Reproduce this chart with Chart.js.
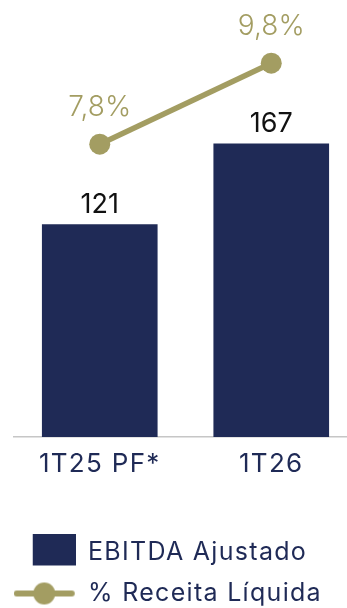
<!DOCTYPE html>
<html lang="pt-BR">
<head>
<meta charset="utf-8">
<title>EBITDA Ajustado</title>
<script src="https://cdn.jsdelivr.net/npm/chart.js@4.4.1/dist/chart.umd.min.js"></script>
<style>
  html, body { margin: 0; padding: 0; background: #fff; overflow: hidden; }
  #moldura { width: 347px; height: 608px; overflow: hidden; }
  #wrap { width: 357px; height: 616px; }
  canvas { display: block; }
</style>
</head>
<body>
<div id="moldura"><div id="wrap"><canvas id="ebitdaGrafico" width="357" height="616"></canvas></div></div>
<script>
// EBITDA ajustado (R$ mi) e margem sobre a receita líquida
const periodos = ['1T25 PF*', '1T26'];
const ebitdaAjustado = [121, 167];
const margemLiquida = [7.8, 9.8];
const legendas = ['EBITDA Ajustado', '% Receita Líquida'];

const AZUL = '#1f2a56';
const OLIVA = '#a39d62';

const fmtPct = v => v.toFixed(1).replace('.', ',') + '%';

// marcadores da legenda desenhados em canvas pequenos
function marcadorBarra() {
  const c = document.createElement('canvas');
  c.width = 46; c.height = 38;
  const g = c.getContext('2d');
  g.fillStyle = AZUL;
  g.fillRect(3, 0, 43, 32);
  return c;
}

function marcadorLinha() {
  const c = document.createElement('canvas');
  c.width = 78; c.height = 24;
  const g = c.getContext('2d');
  g.strokeStyle = OLIVA;
  g.lineWidth = 6;
  g.lineCap = 'round';
  g.beginPath();
  g.moveTo(3, 12);
  g.lineTo(58, 12);
  g.stroke();
  g.fillStyle = OLIVA;
  g.beginPath();
  g.arc(30.5, 12, 11, 0, Math.PI * 2);
  g.fill();
  return c;
}

// texto um pouco mais espaçado nos eixos e na legenda
const espacamento = {
  id: 'espacamento',
  beforeDraw(chart) {
    chart.ctx.letterSpacing = '1.3px';
  }
};

// rótulos de valor acima das barras e dos pontos
const rotulos = {
  id: 'rotulos',
  afterDatasetsDraw(chart) {
    const ctx = chart.ctx;
    ctx.save();
    ctx.letterSpacing = '0px';
    ctx.textAlign = 'center';
    ctx.textBaseline = 'alphabetic';
    chart.getDatasetMeta(1).data.forEach((bar, i) => {
      ctx.font = '400 27px Inter';
      ctx.fillStyle = '#111111';
      ctx.fillText(String(ebitdaAjustado[i]), bar.x, bar.y - 12);
    });
    chart.getDatasetMeta(0).data.forEach((pt, i) => {
      ctx.font = '300 28px Inter';
      ctx.fillStyle = OLIVA;
      ctx.fillText(fmtPct(margemLiquida[i]), pt.x, pt.y - 28);
    });
    ctx.restore();
  }
};

Chart.defaults.font.family = 'Inter';

const ctx = document.getElementById('ebitdaGrafico').getContext('2d');

const ebitdaGrafico = new Chart(ctx, {
  type: 'bar',
  data: {
    labels: periodos,
    datasets: [
      {
        type: 'line',
        label: legendas[1],
        data: margemLiquida,
        yAxisID: 'y1',
        borderColor: OLIVA,
        backgroundColor: OLIVA,
        borderWidth: 5.5,
        pointRadius: 10.5,
        pointHoverRadius: 10.5,
        pointBackgroundColor: OLIVA,
        pointBorderWidth: 0,
        order: 0
      },
      {
        label: legendas[0],
        data: ebitdaAjustado,
        yAxisID: 'y',
        backgroundColor: AZUL,
        barThickness: 115,
        order: 1
      }
    ]
  },
  plugins: [espacamento, rotulos],
  options: {
    responsive: false,
    animation: false,
    layout: {
      autoPadding: false,
      padding: { left: 14, right: 0, top: 0, bottom: 0 }
    },
    plugins: {
      tooltip: { enabled: false },
      legend: {
        position: 'bottom',
        align: 'start',
        labels: {
          usePointStyle: true,
          pointStyleWidth: 45.5,
          padding: 16,
          color: AZUL,
          font: { size: 25 },
          generateLabels: () => [
            { text: legendas[0], pointStyle: marcadorBarra(), fontColor: AZUL, datasetIndex: 1 },
            { text: legendas[1], pointStyle: marcadorLinha(), fontColor: AZUL, datasetIndex: 0 }
          ]
        }
      }
    },
    scales: {
      x: {
        grid: { display: false, drawTicks: false },
        border: { display: true, color: '#c6c6c6', width: 1.5 },
        ticks: { color: AZUL, padding: 12, font: { size: 26 } },
        afterFit: scale => { scale.height = 87; }
      },
      y: { display: false, min: 0, max: 249 },
      y1: { display: false, min: 0.57, max: 11.36 }
    }
  }
});
</script>
</body>
</html>
